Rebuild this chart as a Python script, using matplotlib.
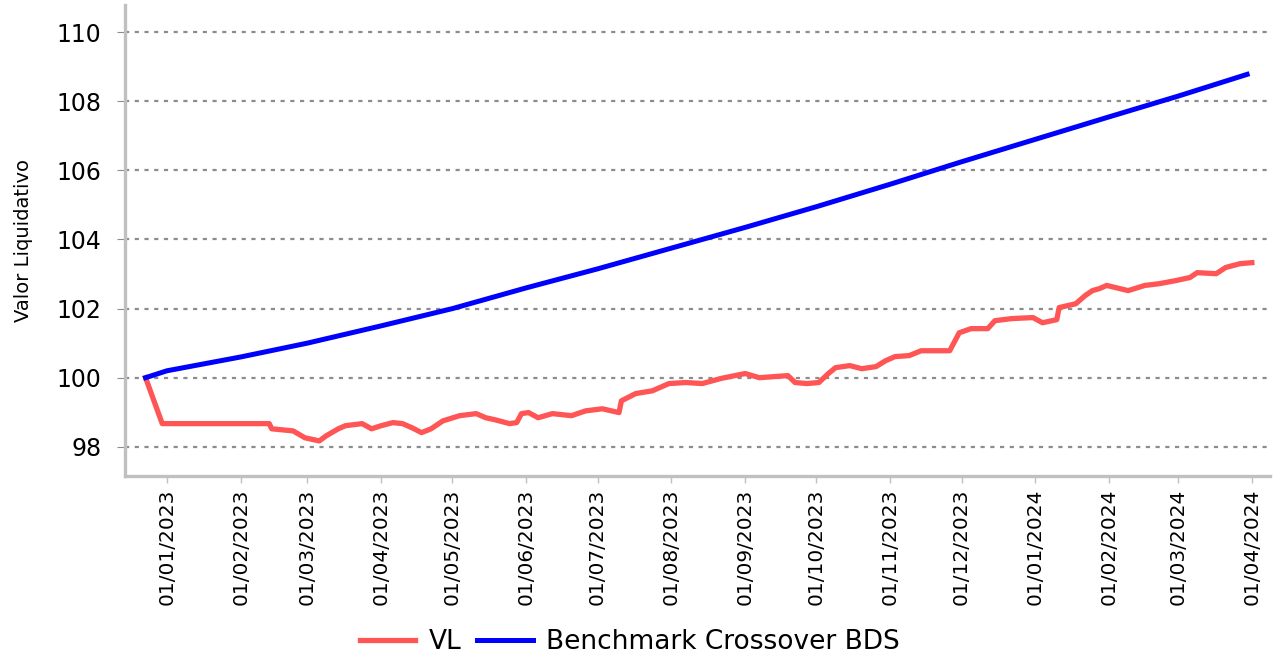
import pandas as pd
import matplotlib
matplotlib.use("Agg")
import matplotlib.pyplot as plt
import matplotlib.dates as mdates

# VL series
vl_dates = ["2022-12-23", "2022-12-30", "2023-02-13", "2023-02-14", "2023-02-23",
            "2023-02-28", "2023-03-06", "2023-03-09", "2023-03-14", "2023-03-17",
            "2023-03-24", "2023-03-28", "2023-04-01", "2023-04-06", "2023-04-10",
            "2023-04-14", "2023-04-18", "2023-04-22", "2023-04-27", "2023-05-04",
            "2023-05-11", "2023-05-15", "2023-05-19", "2023-05-25", "2023-05-28",
            "2023-05-30", "2023-06-02", "2023-06-06", "2023-06-12", "2023-06-20",
            "2023-06-26", "2023-07-03", "2023-07-10", "2023-07-11", "2023-07-17",
            "2023-07-24", "2023-07-31", "2023-08-07", "2023-08-14", "2023-08-22",
            "2023-09-01", "2023-09-07", "2023-09-19", "2023-09-22", "2023-09-27",
            "2023-10-02", "2023-10-06", "2023-10-09", "2023-10-15", "2023-10-20",
            "2023-10-26", "2023-10-30", "2023-11-03", "2023-11-09", "2023-11-14",
            "2023-11-26", "2023-11-30", "2023-12-05", "2023-12-12", "2023-12-15",
            "2023-12-22", "2023-12-31", "2024-01-04", "2024-01-10", "2024-01-11",
            "2024-01-18", "2024-01-22", "2024-01-25", "2024-01-28", "2024-01-31",
            "2024-02-09", "2024-02-16", "2024-02-22", "2024-02-29", "2024-03-06",
            "2024-03-09", "2024-03-17", "2024-03-21", "2024-03-27", "2024-04-01"]
vl_values = [100.00, 98.67, 98.67, 98.52, 98.46,
             98.26, 98.17, 98.32, 98.52, 98.61,
             98.67, 98.52, 98.61, 98.70, 98.67,
             98.55, 98.41, 98.52, 98.75, 98.90,
             98.96, 98.84, 98.78, 98.67, 98.70,
             98.96, 98.99, 98.84, 98.96, 98.90,
             99.04, 99.10, 98.99, 99.33, 99.54,
             99.62, 99.83, 99.86, 99.83, 99.98,
             100.12, 100.00, 100.06, 99.86, 99.83,
             99.86, 100.12, 100.29, 100.35, 100.26,
             100.32, 100.49, 100.61, 100.64, 100.78,
             100.78, 101.30, 101.42, 101.42, 101.65,
             101.71, 101.74, 101.59, 101.68, 102.03,
             102.14, 102.38, 102.52, 102.58, 102.67,
             102.52, 102.67, 102.72, 102.81, 102.90,
             103.04, 103.01, 103.19, 103.30, 103.33]

# benchmark series
bm_dates = ["2022-12-23", "2023-01-01", "2023-02-01", "2023-03-01", "2023-04-01",
            "2023-05-01", "2023-06-01", "2023-07-01", "2023-08-01", "2023-09-01",
            "2023-10-01", "2023-11-01", "2023-12-01", "2024-01-01", "2024-02-01",
            "2024-03-01", "2024-03-30"]
bm_values = [100.00, 100.20, 100.60, 101.00, 101.50,
             102.00, 102.60, 103.15, 103.75, 104.35,
             104.95, 105.60, 106.25, 106.90, 107.55,
             108.15, 108.78]

tick_dates = pd.date_range("2023-01-01", "2024-04-01", freq="MS")
y_ticks = [98, 100, 102, 104, 106, 108, 110]

plt.rcParams["lines.scale_dashes"] = False

fig = plt.figure(figsize=(12.75, 6.59), dpi=100)
ax = fig.add_axes([0.098, 0.278, 0.898, 0.714])

ax.plot(pd.to_datetime(vl_dates), vl_values, color="#ff5555", lw=3.8,
        label="VL", solid_joinstyle="round")
ax.plot(pd.to_datetime(bm_dates), bm_values, color="#0000ff", lw=3.6,
        label="Benchmark Crossover BDS")

ax.set_xlim(pd.Timestamp("2022-12-14 08:00"), pd.Timestamp("2024-04-08 14:00"))
ax.set_ylim(97.16, 110.78)

ax.set_yticks(y_ticks)
ax.set_yticklabels([str(v) for v in y_ticks], fontsize=17)
ax.set_xticks(tick_dates)
ax.xaxis.set_major_formatter(mdates.DateFormatter("%d/%m/%Y"))
plt.setp(ax.get_xticklabels(), rotation=90, fontsize=14.5)

ax.yaxis.grid(True, color="#8c8c8c", lw=1.6, linestyle=(0, (3, 4)))
ax.set_axisbelow(True)
ax.tick_params(axis="y", length=6, color="#8c8c8c", pad=11)
ax.tick_params(axis="x", length=5, color="#c0c0c0", width=1, pad=4)

for s in ["top", "right"]:
    ax.spines[s].set_visible(False)
for s in ["left", "bottom"]:
    ax.spines[s].set_color("#c0c0c0")
    ax.spines[s].set_linewidth(2.4)

ax.set_ylabel("Valor Liquidativo", fontsize=14, labelpad=17)

fig.legend(loc="center", bbox_to_anchor=(0.494, 0.026), ncol=2, frameon=False,
           fontsize=19, handlelength=2.1, handletextpad=0.5, columnspacing=0.6)

fig.savefig("out.png", dpi=100)
